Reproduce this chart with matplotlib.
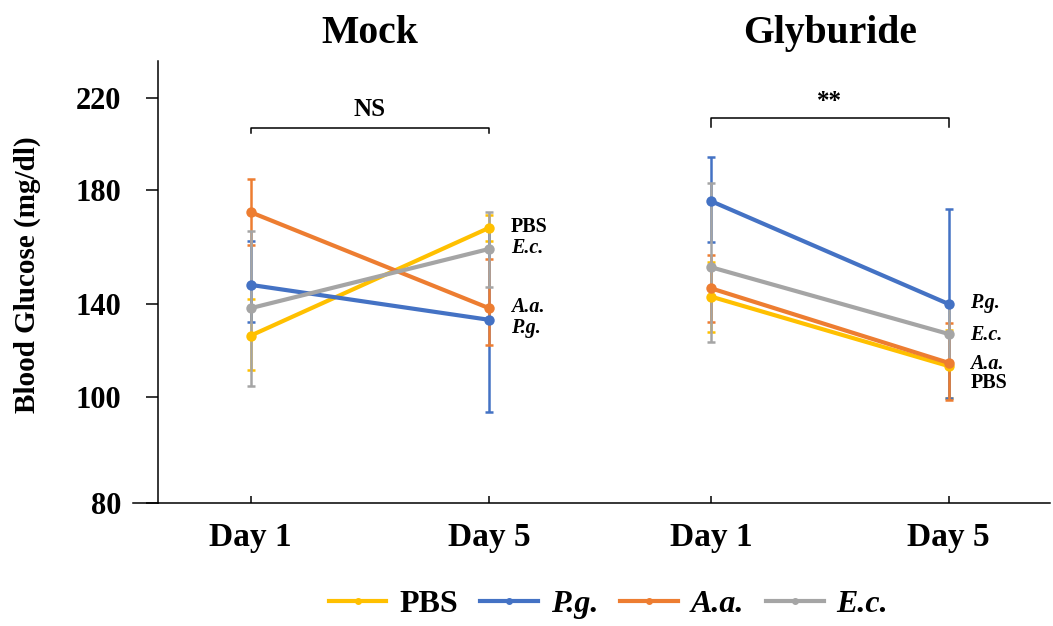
import numpy as np
import matplotlib
matplotlib.use("Agg")
import matplotlib.pyplot as plt
from matplotlib.lines import Line2D

plt.rcParams['font.family'] = ['Liberation Serif', 'DejaVu Serif']
plt.rcParams['font.weight'] = 'bold'

# ---- data (mg/dl) ----
groups = ['Mock', 'Glyburide']
days = ['Day 1', 'Day 5']
series = ['PBS', 'P.g.', 'A.a.', 'E.c.']
colors = ['#FFC000', '#4472C4', '#ED7D31', '#A5A5A5']
italic = [False, True, True, True]

# [series][day]
mock_mean = [[126.4, 166.7], [146.7, 133.2], [172.2, 138.2], [138.2, 159.3]]
mock_upper = [[141.9, 171.2], [162.1, 166.6], [184.7, 155.7], [165.6, 172.4]]
mock_lower = [[111.6, 162.1], [132.3, 97.2], [160.7, 122.4], [104.7, 146.1]]

gly_mean = [[142.6, 113.3], [176.1, 140.0], [145.5, 114.7], [152.9, 127.1]]
gly_upper = [[154.9, 128.8], [194.5, 173.2], [157.2, 131.7], [183.2, 140.0]]
gly_lower = [[128.0, 99.8], [161.6, 99.9], [132.4, 99.4], [123.8, 114.3]]

# end-of-line labels and significance marks
mock_tags = ['PBS', 'E.c.', 'A.a.', 'P.g.']
mock_tag_y = [167.1, 159.5, 138.8, 129.7]
gly_tags = ['P.g.', 'E.c.', 'A.a.', 'PBS']
gly_tag_y = [140.2, 126.7, 114.4, 105.9]
signif = ['NS', '**']

# the original y axis is not linear: labels sit at uneven steps
tick_vals = [80, 100, 140, 180, 220]
tick_steps = [0, 106, 199, 313, 405]
ext_vals = [40] + tick_vals + [260]
ext_steps = [-212] + tick_steps + [497]


def fwd(v):
    return np.interp(v, ext_vals, ext_steps)


def inv(h):
    return np.interp(h, ext_steps, ext_vals)


day_x = [[0.0, 1.0], [1.932, 2.929]]

fig = plt.figure(figsize=(10.53, 6.26), dpi=100)
ax = fig.add_axes([0.1503, 0.1965, 0.8467, 0.7065])
ax.set_yscale('function', functions=(fwd, inv))

data = [(mock_mean, mock_upper, mock_lower), (gly_mean, gly_upper, gly_lower)]
for gi, (means, ups, lows) in enumerate(data):
    xs = day_x[gi]
    for si in range(len(series)):
        m = np.array(means[si])
        yerr = [m - np.array(lows[si]), np.array(ups[si]) - m]
        # error bars stay behind every line and marker
        ax.errorbar(xs, m, yerr=yerr, fmt='none', ecolor=colors[si],
                    elinewidth=1.8, capsize=3.2, capthick=1.8,
                    zorder=1 + 0.1 * si)
        ax.plot(xs, m, color=colors[si], lw=3, marker='o', ms=7.5,
                mew=0, zorder=3 + si)

ax.set_ylim(80, 236.2)
ax.set_xlim(-0.388, 3.354)
ax.set_yticks(tick_vals)
ax.set_xticks([x for xs in day_x for x in xs])
ax.set_xticklabels(days * 2)
ax.tick_params(axis='x', direction='in', length=5, width=1.1, pad=14,
               labelsize=24)
ax.tick_params(axis='y', direction='out', length=8.8, width=1.1, pad=18,
               labelsize=22)
for s in ['top', 'right']:
    ax.spines[s].set_visible(False)
for s in ['left', 'bottom']:
    ax.spines[s].set_linewidth(1.1)
ax.plot([-0.028, 0], [0, 0], transform=ax.transAxes, clip_on=False,
        color='black', lw=1.1)

# group titles
for gi, g in enumerate(groups):
    cx = sum(day_x[gi]) / 2
    ax.text(cx, 1.040, g, transform=ax.get_xaxis_transform(), ha='center',
            va='baseline', fontsize=28.5)

# brackets
bracket_top = [207.1, 211.2]
bracket_low = [204.8, 207.5]
mark_y = [214.8, 218.4]
for gi in range(2):
    x0, x1 = day_x[gi]
    ax.plot([x0, x0, x1, x1],
            [bracket_low[gi], bracket_top[gi], bracket_top[gi], bracket_low[gi]],
            color='black', lw=1.1)
    ax.text((x0 + x1) / 2, mark_y[gi], signif[gi], ha='center', va='center',
            fontsize=18)

# end labels
for gi, (tags, ty) in enumerate([(mock_tags, mock_tag_y), (gly_tags, gly_tag_y)]):
    xl = day_x[gi][1] + 0.092
    for t, y in zip(tags, ty):
        ax.text(xl, y, t, ha='left', va='center', fontsize=14.5,
                style='italic' if italic[series.index(t)] else 'normal')

fig.text(0.0256, 0.562, 'Blood Glucose (mg/dl)', rotation=90, ha='center',
         va='center', fontsize=21)

handles = [Line2D([], [], color=c, lw=3, marker='o', ms=4) for c in colors]
leg = fig.legend(handles, series, loc='center', bbox_to_anchor=(0.578, 0.034),
                 ncol=4, frameon=False, fontsize=23, handlelength=1.8,
                 handletextpad=0.4, columnspacing=0.7)
for txt, it in zip(leg.get_texts(), italic):
    if it:
        txt.set_style('italic')

fig.savefig('out.png', dpi=100)
